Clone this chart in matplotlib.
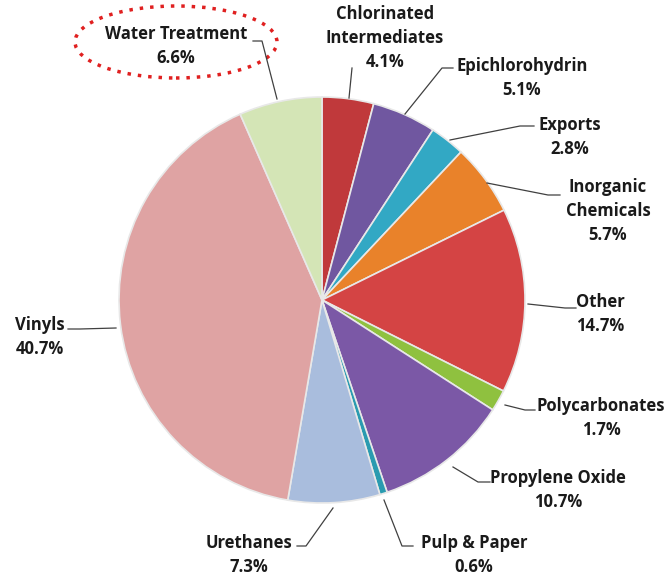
import matplotlib.pyplot as plt
from matplotlib.patches import Ellipse

# shares of chlorine use (%), clockwise from 12 o'clock
labels = ['Chlorinated\nIntermediates', 'Epichlorohydrin', 'Exports', 'Inorganic\nChemicals',
          'Other', 'Polycarbonates', 'Propylene Oxide', 'Pulp & Paper', 'Urethanes',
          'Vinyls', 'Water Treatment']
values = [4.1, 5.1, 2.8, 5.7, 14.7, 1.7, 10.7, 0.6, 7.3, 40.7, 6.6]
colors = ['#C0393B', '#7057A0', '#32A8C4', '#E9822A', '#D44444', '#8FC13F',
          '#7B58A6', '#2A9BB0', '#A9BDDD', '#DFA3A3', '#D4E5B6']

# label text centre (px) and leader line points (px, from text to slice)
text_pos = [(385, 38), (522, 78), (570, 137), (608, 211), (600, 314), (601, 418),
            (558, 490), (474, 555), (249, 555), (40, 337), (176, 46)]
leaders = [[(352, 68), (349, 98)],
           [(453, 68), (442, 68), (405, 114)],
           [(534, 126), (520, 126), (450, 140)],
           [(560, 195), (548, 195), (487, 183)],
           [(576, 308), (565, 308), (528, 304)],
           [(535, 410), (525, 410), (505, 405)],
           [(490, 482), (478, 482), (453, 467)],
           [(413, 546), (402, 546), (384, 500)],
           [(297, 546), (306, 546), (333, 508)],
           [(68, 329), (80, 329), (116, 328)],
           [(253, 41), (262, 41), (277, 99)]]

H = 577
fig = plt.figure(figsize=(6.7, 5.77), dpi=100)
ax = fig.add_axes([0, 0, 1, 1])

ax.pie(values, colors=colors, startangle=90, counterclock=False,
       center=(322, H - 300), radius=203, frame=True,
       wedgeprops=dict(edgecolor='#E8E8E8', linewidth=1.2))
ax.set_xlim(0, 670)
ax.set_ylim(0, H)
ax.set_aspect('equal')
ax.axis('off')

for lab, v, (tx, ty), pts in zip(labels, values, text_pos, leaders):
    ax.text(tx, H - ty, f'{lab}\n{v:.1f}%', ha='center', va='center',
            fontsize=12, fontweight='bold', family='Open Sans',
            linespacing=1.45, color='#1A1A1A')
    xs = [p[0] for p in pts]
    ys = [H - p[1] for p in pts]
    ax.plot(xs, ys, color='#404040', lw=0.9)

ax.add_patch(Ellipse((176, H - 42), 202, 72, fill=False, edgecolor='#E02020',
                     linestyle=(0, (1, 2)), linewidth=2.5))

fig.savefig('out.png', dpi=100)
